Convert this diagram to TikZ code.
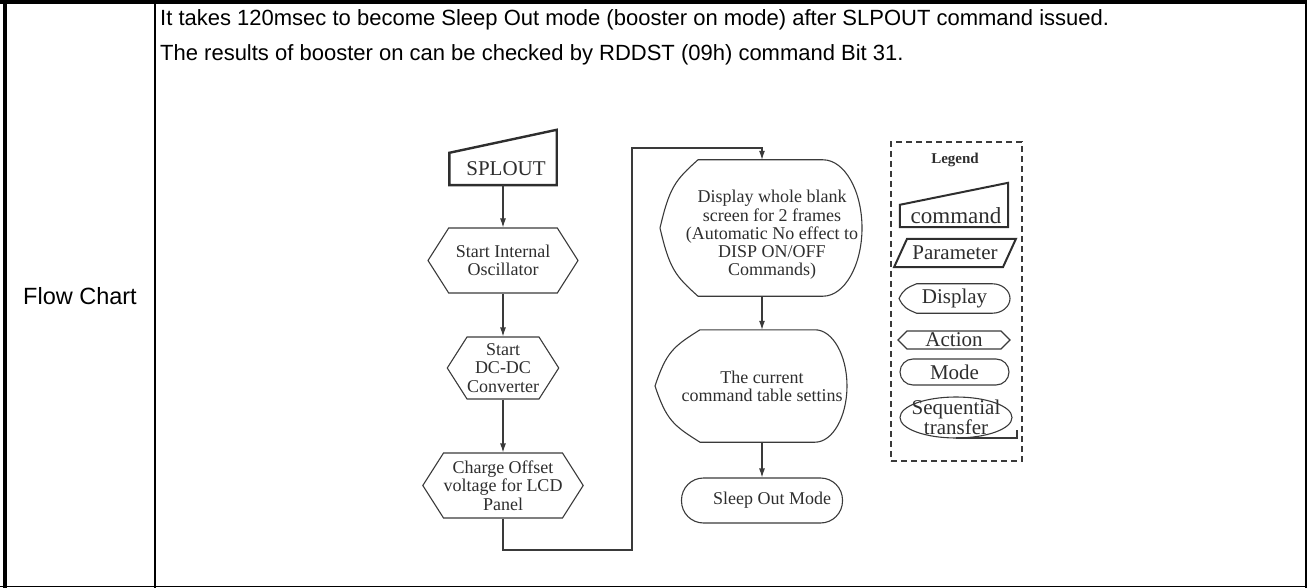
\documentclass[tikz,border=0pt]{standalone}
\usepackage{fontspec}
\setmainfont{Liberation Serif}
\newfontfamily\tablefont{Liberation Sans}
\usepackage{tikz}
\usetikzlibrary{arrows.meta,positioning,calc,shapes.geometric,shapes.symbols,shapes.misc}
\usepackage{xcolor}
\definecolor{chartgray}{HTML}{3A3A3A}
\definecolor{chartink}{HTML}{2E2E2E}
\tikzset{
  flowtext/.style={
    font=\fontsize{18}{18.3}\selectfont,
    text=chartink,
    align=center
  },
  legendtext/.style={
    font=\fontsize{21}{16}\selectfont,
    text=chartink,
    align=center
  },
  hexbox/.style={
    signal,
    signal to=west and east,
    signal pointer angle=115,
    draw=chartgray,
    line width=1.1pt,
    inner xsep=0pt,
    inner ysep=1pt
  },
  modebox/.style={
    rectangle,
    rounded corners=#1,
    draw=chartgray,
    line width=1.1pt,
    inner sep=0pt
  },
  flowline/.style={draw=chartgray, line width=1.1pt},
  cmdline/.style={draw=chartink, line width=2.4pt, line join=miter},
  arrow/.style={
    -{Latex[length=9pt,width=6pt]},
    draw=chartgray,
    line width=1.1pt
  }
}
% display symbol drawn round a node: point, flat left, flat right, bulge, half height
\newcommand{\dispoutline}[6]{%
  \draw[flowline]
    ([xshift=#3]#1.north) -- ([xshift=#4]#1.north)
    .. controls +({0.55*((#5)-(#4))},0) and +(0,{-0.55*(#6)}) .. ([xshift=#5]#1.center)
    .. controls +(0,{0.55*(#6)}) and +({0.55*((#5)-(#4))},0) .. ([xshift=#4]#1.south)
    -- ([xshift=#3]#1.south)
    .. controls +({-0.6*((#3)-(#2))},{-0.3*(#6)}) and +({0.25*((#3)-(#2))},{0.6*(#6)}) .. ([xshift=#2]#1.center)
    .. controls +({0.25*((#3)-(#2))},{-0.6*(#6)}) and +({-0.6*((#3)-(#2))},{0.3*(#6)}) .. ([xshift=#3]#1.north)
    -- cycle;}

\begin{document}
\begin{tikzpicture}[x=1pt, y=-1pt]
\useasboundingbox (0,0) rectangle (1307,588);
% table frame
\draw[line width=4pt] (0,2) -- (1307,2);
\draw[line width=4pt] (5,0) -- (5,588);
\draw[line width=2pt] (1305.5,0) -- (1305.5,588);
\draw[line width=1.5pt] (0,586.5) -- (1307,586.5);
\draw[line width=2pt] (155,0) -- (155,588);
\node[font=\tablefont\fontsize{22}{22}\selectfont, anchor=base west, inner sep=0pt] (note1) at (160,26)
  {It takes 120msec to become Sleep Out mode (booster on mode) after SLPOUT command issued.};
\node[font=\tablefont\fontsize{22}{22}\selectfont, anchor=base west, inner sep=0pt] (note2) at (160,61)
  {The results of booster on can be checked by RDDST (09h) command Bit 31.};
\node[font=\tablefont\fontsize{23.5}{23.5}\selectfont] (rowname) at (80,296) {Flow Chart};

% left column
\node[rectangle, minimum width=107, minimum height=32, inner sep=0pt, flowtext, font=\fontsize{21}{21}\selectfont] (splout) at (503,169) {\hspace*{6pt}SPLOUT};
\draw[cmdline] (splout.south west) -- (splout.north west) -- ([yshift=23pt]splout.north east) -- (splout.south east) -- cycle;
\node[hexbox, flowtext, minimum width=150, minimum height=65] (osc) at (503,260.5) {Start Internal\\Oscillator};
\node[hexbox, flowtext, minimum width=107, minimum height=62] (dcdc) at (503,368) {Start\\DC-DC\\Converter};
\node[hexbox, flowtext, minimum width=159, minimum height=65] (charge) at (503,485.5) {Charge Offset\\voltage for LCD\\Panel};

% right column
\node[minimum width=204, minimum height=136, inner sep=0pt] (blank) at (762,228) {};
\dispoutline{blank}{-102}{-64}{61}{100}{68}
\node[flowtext] (blanktext) at ([xshift=10pt,yshift=-7pt]blank.center)
  {Display whole blank\\screen for 2 frames\\(Automatic No effect to\\DISP ON/OFF\\Commands)};
\node[flowtext, minimum width=192, minimum height=112, inner sep=0pt] (current) at (762,386)
  {The current\\command table settins};
\dispoutline{current}{-107}{-62}{53}{85}{56}
\node[modebox=22, flowtext, minimum width=161, minimum height=45] (sleep) at (762,500.5) {\hspace*{20pt}Sleep Out Mode};

\draw[arrow] (splout.south) -- (osc.north);
\draw[arrow] (osc.south) -- (dcdc.north);
\draw[arrow] (dcdc.south) -- (charge.north);
\coordinate (lowturn) at (632,550);
\coordinate (highturn) at (632,148);
\draw[arrow] (charge.south) |- (lowturn) -- (highturn) -| (blank.north);
\draw[arrow] (blank.south) -- (current.north);
\draw[arrow] (current.south) -- (sleep.north);

% legend
\node[draw=chartgray, dash pattern=on 6pt off 4pt, line width=1.1pt, minimum width=131, minimum height=319, inner sep=0pt] (legend) at (956.5,301.5) {};
\node[font=\bfseries\fontsize{15}{15}\selectfont, text=chartink] (legendtitle) at (955,160) {Legend};
\node[legendtext, font=\fontsize{23}{23}\selectfont, minimum width=108, minimum height=22, inner sep=0pt] (lcmd) at (954,216) {\hspace*{4pt}command};
\draw[cmdline, line width=2pt] (lcmd.south west) -- (lcmd.north west) -- ([yshift=22pt]lcmd.north east) -- (lcmd.south east) -- cycle;
\node[legendtext, minimum width=108.5, minimum height=28, inner sep=0pt] (lpar) at (955,253) {Parameter};
\draw[cmdline, line width=2pt] ([xshift=-6.5pt]lpar.south west) -- ([xshift=6.5pt]lpar.north west) -- ([xshift=6.5pt]lpar.north east) -- ([xshift=-6.5pt]lpar.south east) -- cycle;
\node[legendtext, minimum width=111, minimum height=29, inner sep=0pt] (ldisp) at (954.5,298.5) {Display};
\dispoutline{ldisp}{-55.5}{-38}{38}{55.5}{14.5}
\node[hexbox, legendtext, signal pointer angle=90, minimum width=112, minimum height=18] (lact) at (954,340) {Action};
\node[modebox=13, legendtext, minimum width=109, minimum height=26] (lmode) at (954.5,372) {Mode};
\node[legendtext, inner sep=0pt] (lseq) at (956,417.5) {Sequential\\transfer};
\draw[flowline] (lseq.center) ellipse [x radius=56, y radius=20.5];
\draw[flowline] ([yshift=-20.5pt]lseq.center) -- ++(61,0) -- ++(0,-8);
\end{tikzpicture}
\end{document}
